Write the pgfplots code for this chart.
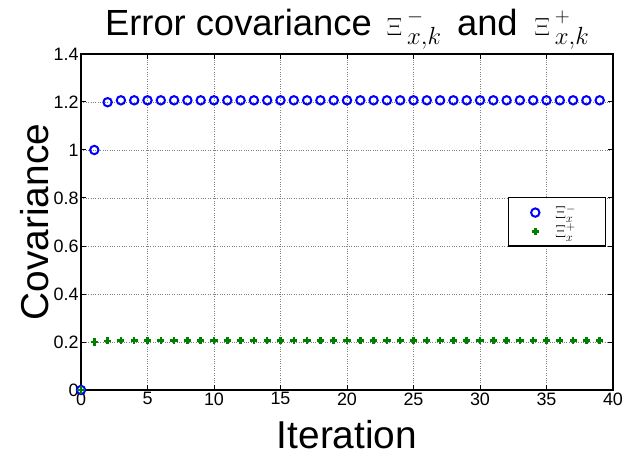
\documentclass[border=0pt]{standalone}
\usepackage{fontspec}
\setmainfont{Liberation Sans}
\usepackage{pgfplots}
\pgfplotsset{compat=1.18}
\definecolor{mgreen}{rgb}{0,0.5,0}
\newcommand\XI[1]{{\fontsize{30}{30}\selectfont$\Xi$}\kern5bp\rlap{\raisebox{13bp}{\fontsize{22}{22}\selectfont$#1$}}\raisebox{-9bp}{\fontsize{26}{26}\selectfont$x{,}k$}}
\begin{document}
\begin{tikzpicture}
\begin{axis}[
  scale only axis,
  width=532bp, height=336bp,
  xmin=0, xmax=40, ymin=0, ymax=1.4,
  xtick={0,5,...,40},
  ytick={0,0.2,0.4,0.6,0.8,1,1.2,1.4},
  yticklabels={0,0.2,0.4,0.6,0.8,1,1.2,1.4},
  /pgf/number format/assume math mode=true,
  tick label style={font=\fontsize{18}{20}\selectfont},
  xticklabel style={yshift=1bp},
  yticklabel style={xshift=1bp},
  axis line style={line width=1.6pt},
  tick style={line width=1pt, black},
  major tick length=5bp,
  tick align=inside,
  grid=major,
  grid style={dotted, gray, line width=0.8pt},
  title={Error covariance\hspace{15bp}\XI{-}\hspace{16bp}and\hspace{17bp}\XI{+}},
  title style={font=\fontsize{36.5}{38}\selectfont, yshift=-5bp},
  xlabel={Iteration},
  ylabel={Covariance},
  label style={font=\fontsize{39}{42}\selectfont},
  xlabel style={yshift=-8bp},
  ylabel style={yshift=-2bp},
  clip=false,
  legend style={at={(0.987,0.574)}, anchor=north east, draw=black, line width=1.2pt,
    font=\fontsize{17}{18}\selectfont, row sep=0bp, inner xsep=23bp, inner ysep=5.5bp},
  legend cell align=left,
]
\addplot[only marks, mark=o, blue, mark size=4.2bp, mark options={line width=2pt}] coordinates {
(0,0) (1,1) (2,1.199) (3,1.207) (4,1.207) (5,1.207) (6,1.207) (7,1.207) (8,1.207) (9,1.207)
(10,1.207) (11,1.207) (12,1.207) (13,1.207) (14,1.207) (15,1.207) (16,1.207) (17,1.207) (18,1.207) (19,1.207)
(20,1.207) (21,1.207) (22,1.207) (23,1.207) (24,1.207) (25,1.207) (26,1.207) (27,1.207) (28,1.207) (29,1.207)
(30,1.207) (31,1.207) (32,1.207) (33,1.207) (34,1.207) (35,1.207) (36,1.207) (37,1.207) (38,1.207) (39,1.207)
};
\addlegendentry{\makebox[39bp][l]{\hspace{14bp}$\Xi^-_x$}}
\addplot[only marks, mark=+, mgreen, mark size=3.6bp, mark options={line width=2.6pt}] coordinates {
(0,0) (1,0.2) (2,0.205) (3,0.207) (4,0.207) (5,0.207) (6,0.207) (7,0.207) (8,0.207) (9,0.207)
(10,0.207) (11,0.207) (12,0.207) (13,0.207) (14,0.207) (15,0.207) (16,0.207) (17,0.207) (18,0.207) (19,0.207)
(20,0.207) (21,0.207) (22,0.207) (23,0.207) (24,0.207) (25,0.207) (26,0.207) (27,0.207) (28,0.207) (29,0.207)
(30,0.207) (31,0.207) (32,0.207) (33,0.207) (34,0.207) (35,0.207) (36,0.207) (37,0.207) (38,0.207) (39,0.207)
};
\addlegendentry{\makebox[39bp][l]{\hspace{14bp}$\Xi^+_x$}}
\end{axis}
\pgfresetboundingbox
\path (current axis.south west) ++(-81bp,-74bp) coordinate (bl);
\path (current axis.north east) ++(27bp,54bp) coordinate (tr);
\path (bl) rectangle (tr);
\end{tikzpicture}
\end{document}
